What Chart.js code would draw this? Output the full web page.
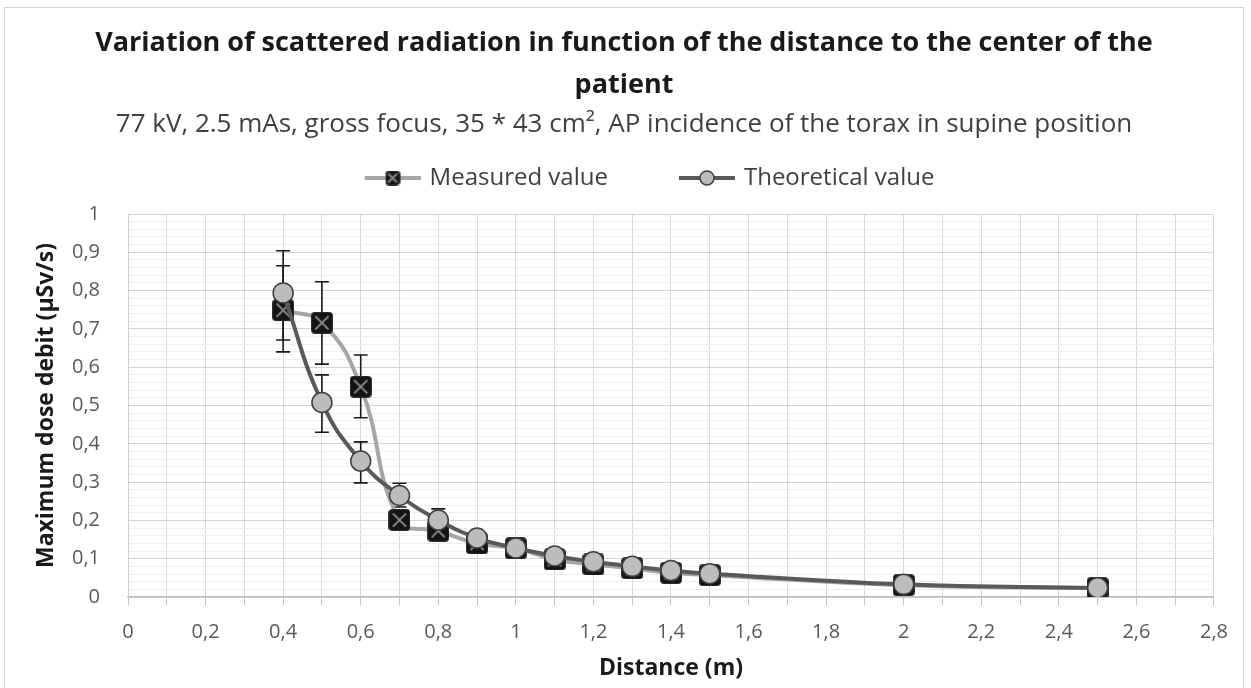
<!DOCTYPE html>
<html>
<head>
<meta charset="utf-8">
<script src="https://cdn.jsdelivr.net/npm/chart.js@4.4.1/dist/chart.umd.min.js"></script>
<style>
  body { margin: 0; background: #fff; }
  #marco { position: absolute; left: 4px; top: 7px; width: 1238px; height: 700px; border: 1px solid #d4d4d4; }
</style>
</head>
<body>
<div id="marco"><canvas id="grafico"></canvas></div>
<script>
// Distancias (m) y valores (µSv/s)
const distancias = [0.4, 0.5, 0.6, 0.7, 0.8, 0.9, 1.0, 1.1, 1.2, 1.3, 1.4, 1.5, 2.0, 2.5];
const medidos = [0.749, 0.716, 0.549, 0.201, 0.173, 0.140, 0.127, 0.098, 0.085, 0.075, 0.063, 0.057, 0.031, 0.023];
const teoricos = [0.794, 0.508, 0.355, 0.265, 0.201, 0.154, 0.128, 0.107, 0.092, 0.080, 0.069, 0.061, 0.033, 0.024];

// Barras de error (límite inferior y superior), null = sin barra visible
const medidosMin = [0.640, 0.608, 0.468, null, null, null, null, null, null, null, null, null, null, null];
const medidosMax = [0.904, 0.823, 0.632, null, null, null, null, null, null, null, null, null, null, null];
const teoricosMin = [0.671, 0.430, 0.298, 0.235, 0.175, null, null, null, null, null, null, null, null, null];
const teoricosMax = [0.865, 0.580, 0.405, 0.297, 0.230, null, null, null, null, null, null, null, null, null];

const titulo = ['Variation of scattered radiation in function of the distance to the center of the', 'patient'];
const subtitulo = '77 kV, 2.5 mAs, gross focus, 35 * 43 cm², AP incidence of the torax in supine position';
const nombresSeries = ['Measured value', 'Theoretical value'];

const FUENTE = "'Open Sans', sans-serif";
const GRIS_CLARO = '#a6a6a6';
const GRIS_OSCURO = '#595959';

// Marcador cuadrado negro con una X gris (como el de Excel)
function marcadorCuadrado(lado) {
    const c = document.createElement('canvas');
    c.width = lado; c.height = lado;
    const g = c.getContext('2d');
    g.fillStyle = '#141414';
    g.strokeStyle = '#2e2e2e';
    g.lineWidth = 1;
    g.beginPath();
    g.roundRect(0.5, 0.5, lado - 1, lado - 1, 3);
    g.fill(); g.stroke();
    g.strokeStyle = '#8a8a8a';
    g.lineWidth = 2;
    const m = lado * 0.2;
    g.beginPath();
    g.moveTo(m, m); g.lineTo(lado - m, lado - m);
    g.moveTo(lado - m, m); g.lineTo(m, lado - m);
    g.stroke();
    return c;
}

// Icono de la leyenda: línea con marcador en el medio, con hueco a la izquierda
const HUECO = 54;
const LARGO_LINEA = 56;
function iconoLeyenda(color, tipo) {
    const alto = 18;
    const c = document.createElement('canvas');
    c.width = HUECO + LARGO_LINEA; c.height = alto;
    const g = c.getContext('2d');
    g.strokeStyle = color;
    g.lineWidth = 4;
    g.beginPath();
    g.moveTo(HUECO, alto / 2); g.lineTo(HUECO + LARGO_LINEA, alto / 2);
    g.stroke();
    const cx = HUECO + LARGO_LINEA / 2;
    if (tipo === 'cuadrado') {
        g.drawImage(marcadorCuadrado(15), cx - 7.5, alto / 2 - 7.5);
    } else {
        g.fillStyle = '#bcbcbc';
        g.strokeStyle = '#3f3f3f';
        g.lineWidth = 1.5;
        g.beginPath();
        g.arc(cx, alto / 2, 7, 0, Math.PI * 2);
        g.fill(); g.stroke();
    }
    return c;
}
const iconos = [iconoLeyenda(GRIS_CLARO, 'cuadrado'), iconoLeyenda(GRIS_OSCURO, 'circulo')];

// Plugin para dibujar las barras de error con las escalas del gráfico
const barrasError = {
    id: 'barrasError',
    beforeDatasetsDraw(chart) {
        const { ctx, scales: { x, y } } = chart;
        ctx.save();
        ctx.strokeStyle = '#1a1a1a';
        ctx.lineWidth = 1.6;
        chart.data.datasets.forEach(ds => {
            ds.errMin.forEach((lo, i) => {
                const hi = ds.errMax[i];
                if (lo === null || hi === null) return;
                const px = x.getPixelForValue(ds.data[i].x);
                const yLo = y.getPixelForValue(lo);
                const yHi = y.getPixelForValue(hi);
                ctx.beginPath();
                ctx.moveTo(px, yHi); ctx.lineTo(px, yLo);
                ctx.moveTo(px - 7, yHi); ctx.lineTo(px + 7, yHi);
                ctx.moveTo(px - 7, yLo); ctx.lineTo(px + 7, yLo);
                ctx.stroke();
            });
        });
        ctx.restore();
    }
};

// Caja vacía entre la leyenda y el área del gráfico
const ESPACIO = 14;
const espaciador = {
    id: 'espaciador',
    beforeInit(chart) {
        Chart.layouts.addBox(chart, {
            position: 'top',
            weight: 1,
            fullSize: true,
            options: {},
            top: 0, left: 0, right: 0, bottom: 0, width: 0, height: 0,
            update(maxWidth) { this.width = maxWidth; this.height = ESPACIO; },
            isHorizontal() { return true; },
            draw() {}
        });
    }
};

const decimal = v => v.toFixed(1).replace('.', ',').replace(',0', '');

const ctx = document.getElementById('grafico').getContext('2d');
new Chart(ctx, {
    type: 'line',
    data: {
        datasets: [
            {
                label: nombresSeries[0],
                data: distancias.map((d, i) => ({ x: d, y: medidos[i] })),
                errMin: medidosMin,
                errMax: medidosMax,
                borderColor: GRIS_CLARO,
                borderWidth: 4,
                tension: 0.45,
                pointStyle: marcadorCuadrado(22),
                pointRadius: 11,
                order: 2
            },
            {
                label: nombresSeries[1],
                data: distancias.map((d, i) => ({ x: d, y: teoricos[i] })),
                errMin: teoricosMin,
                errMax: teoricosMax,
                borderColor: GRIS_OSCURO,
                borderWidth: 4,
                tension: 0.45,
                pointStyle: 'circle',
                pointRadius: 10,
                pointBackgroundColor: '#bcbcbc',
                pointBorderColor: '#3f3f3f',
                pointBorderWidth: 1.5,
                order: 1
            }
        ]
    },
    options: {
        responsive: true,
        maintainAspectRatio: false,
        animation: false,
        layout: { padding: { top: 0, left: 28, right: 28, bottom: 24 } },
        plugins: {
            tooltip: { enabled: false },
            title: {
                display: true,
                text: titulo,
                color: '#1a1a1a',
                font: { family: FUENTE, size: 27, weight: 'bold', lineHeight: '42px' },
                padding: { top: 14, bottom: 4 }
            },
            subtitle: {
                display: true,
                text: subtitulo,
                color: '#404040',
                font: { family: FUENTE, size: 26, lineHeight: '30px' },
                padding: { top: 0, bottom: 6 }
            },
            legend: {
                display: true,
                labels: {
                    usePointStyle: true,
                    pointStyleWidth: HUECO + LARGO_LINEA - 6,
                    padding: 20,
                    color: '#404040',
                    font: { family: FUENTE, size: 24 },
                    generateLabels: chart => chart.data.datasets.map((ds, i) => ({
                        text: ds.label,
                        pointStyle: iconos[i],
                        datasetIndex: i,
                        fontColor: '#404040',
                        fillStyle: 'transparent',
                        strokeStyle: 'transparent',
                        lineWidth: 0,
                        hidden: false
                    }))
                }
            }
        },
        scales: {
            x: {
                type: 'linear',
                min: 0,
                max: 2.8,
                afterFit: s => { s.height = 87; },
                border: { color: '#bfbfbf', width: 1.5 },
                grid: { color: '#d9d9d9', tickColor: '#bfbfbf', tickLength: 8 },
                ticks: {
                    stepSize: 0.1,
                    maxTicksLimit: 60,
                    autoSkip: false,
                    maxRotation: 0,
                    padding: 15,
                    color: GRIS_OSCURO,
                    font: { family: FUENTE, size: 20 },
                    callback: v => (Math.round(v * 10) % 2 ? '' : decimal(v))
                },
                title: {
                    display: true,
                    text: 'Distance (m)',
                    color: '#1a1a1a',
                    font: { family: FUENTE, size: 23, weight: 'bold' },
                    padding: { top: 0, bottom: 2 }
                }
            },
            y: {
                min: 0,
                max: 1,
                afterFit: s => { s.width = 95; },
                border: { color: '#d0d0d0' },
                grid: {
                    drawTicks: false,
                    color: c => (Math.round(c.tick.value * 50) % 5 ? '#efefef' : '#d4d4d4')
                },
                ticks: {
                    stepSize: 0.02,
                    maxTicksLimit: 60,
                    autoSkip: false,
                    padding: 28,
                    color: GRIS_OSCURO,
                    font: { family: FUENTE, size: 20 },
                    callback: v => (Math.round(v * 50) % 5 ? '' : decimal(v))
                },
                title: {
                    display: true,
                    text: 'Maximum dose debit (µSv/s)',
                    color: '#1a1a1a',
                    font: { family: FUENTE, size: 23, weight: 'bold' },
                    padding: { top: 0, bottom: 0 }
                }
            }
        }
    },
    plugins: [barrasError, espaciador]
});
</script>
</body>
</html>
